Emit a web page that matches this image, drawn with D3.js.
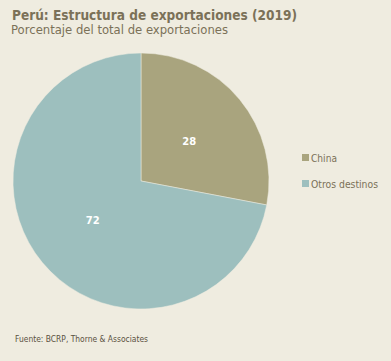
<!DOCTYPE html>
<html><head><meta charset="utf-8">
<script src="https://cdn.jsdelivr.net/npm/d3@7"></script>
<style>body{margin:0;background:#efece0;}svg{display:block;}</style>
</head><body>
<svg id="c" width="391" height="361"></svg>
<script>
const categories = ["China", "Otros destinos"];
const values = [28, 72];
const colors = ["#a9a47e", "#9dbfbe"];

const svg = d3.select("#c");
svg.append("rect").attr("width",391).attr("height",361).attr("fill","#efece0");

const font = "Tahoma, 'DejaVu Sans', Verdana, sans-serif";
svg.append("text").attr("x",12).attr("y",20).attr("font-family",font).attr("font-weight","bold")
  .attr("font-size",14).attr("fill","#7b7158")
  .attr("textLength",285).attr("lengthAdjust","spacingAndGlyphs")
  .text("Perú: Estructura de exportaciones (2019)");
svg.append("text").attr("x",11).attr("y",34).attr("font-family",font)
  .attr("font-size",12).attr("fill","#7b7158")
  .attr("textLength",217).attr("lengthAdjust","spacingAndGlyphs")
  .text("Porcentaje del total de exportaciones");

const cx = 141, cy = 181, R = 128;
const pie = d3.pie().sort(null).value(d => d)(values);
const arc = d3.arc().innerRadius(0).outerRadius(R);
const labelArc = d3.arc().innerRadius(R*0.49).outerRadius(R*0.49);
const g = svg.append("g").attr("transform",`translate(${cx},${cy})`);
g.selectAll("path").data(pie).join("path").attr("d",arc).attr("fill",(d,i)=>colors[i])
  .attr("stroke","#efece0").attr("stroke-width",0.5);
g.selectAll("text").data(pie).join("text")
  .attr("transform",d=>`translate(${labelArc.centroid(d)})`)
  .attr("text-anchor","middle").attr("dy","0.35em")
  .attr("font-family",font).attr("font-weight","bold").attr("font-size",10).attr("fill","#ffffff")
  .text(d=>d.data);

const legW = [26, 67];
const leg = svg.append("g");
categories.forEach((c,i)=>{
  const y = 158 + i*26;
  leg.append("rect").attr("x",302).attr("y",y-4).attr("width",7).attr("height",7).attr("fill",colors[i]);
  leg.append("text").attr("x",311).attr("y",y).attr("dy","0.35em").attr("font-family",font)
    .attr("font-size",10).attr("fill","#7b7158")
    .attr("textLength",legW[i]).attr("lengthAdjust","spacingAndGlyphs").text(c);
});

svg.append("text").attr("x",15).attr("y",342).attr("font-family",font)
  .attr("font-size",8).attr("fill","#5a5140")
  .attr("textLength",133).attr("lengthAdjust","spacingAndGlyphs")
  .text("Fuente: BCRP, Thorne & Associates");
</script>
</body></html>
